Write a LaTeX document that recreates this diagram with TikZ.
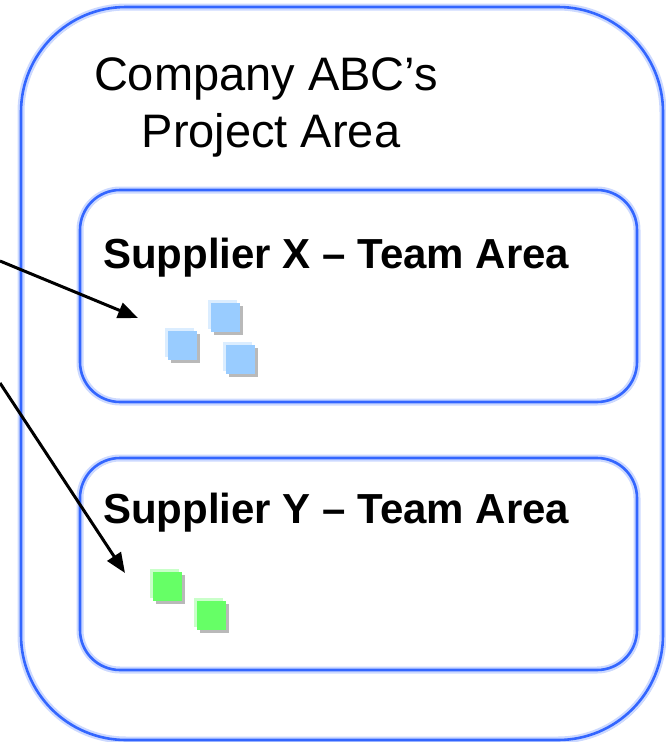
\documentclass[tikz,border=0pt]{standalone}
\usepackage{fontspec}
\setmainfont{Liberation Sans}
\usetikzlibrary{arrows.meta,shadows}
\definecolor{areablue}{RGB}{51,102,255}
\definecolor{itemblue}{RGB}{153,204,255}
\definecolor{itemgreen}{RGB}{102,255,102}
\tikzset{
  area/.style={draw=areablue, line width=2.6pt, rounded corners=#1,
    preaction={draw=gray!55, line width=1.5pt, transform canvas={shift={(1.8pt,-1.8pt)}}},
    preaction={draw=areablue!25, line width=7pt}},
  item/.style={fill=#1, minimum size=29pt, inner sep=0pt,
    drop shadow={shadow xshift=3pt, shadow yshift=-3pt, fill=gray!55, opacity=1},
    drop shadow={shadow xshift=-2.5pt, shadow yshift=2.5pt, fill=#1!35, opacity=1}},
  pointer/.style={-{Triangle[length=20pt,width=16pt]}, line width=3pt},
  title/.style={font=\fontsize{47}{56}\selectfont, inner sep=0pt, anchor=base},
  teamlabel/.style={font=\fontsize{42}{50}\selectfont\bfseries, inner sep=0pt, anchor=base west},
}
\begin{document}
\begin{tikzpicture}[x=1pt,y=-1pt]
    \useasboundingbox (0,0) rectangle (665,742);
    % Project area
    \draw [area=105] (21,7) rectangle (663,740);
    \node [title] (company) at (266,90) {Company ABC’s};
    \node [title] (projarea) at (271,147) {Project Area};
    % Team area of supplier X
    \draw [area=40] (80,190) rectangle (637,402);
    \node [teamlabel] (labelx) at (103,268) {Supplier X – Team Area};
    \node [item=itemblue] (bluea) at (182,345) {};
    \node [item=itemblue] (blueb) at (225,317) {};
    \node [item=itemblue] (bluec) at (240,359) {};
    % Team area of supplier Y
    \draw [area=40] (80,458) rectangle (637,670);
    \node [teamlabel] (labely) at (103,523) {Supplier Y – Team Area};
    \node [item=itemgreen] (greena) at (167,586) {};
    \node [item=itemgreen] (greenb) at (211,615) {};
    % Pointers coming in from the left
    \coordinate (fromx) at (0,261);
    \coordinate (tox) at (138,318);
    \coordinate (fromy) at (0,383);
    \coordinate (toy) at (125,573);
    \draw [pointer] (fromx) -- (tox);
    \draw [pointer] (fromy) -- (toy);
\end{tikzpicture}
\end{document}
